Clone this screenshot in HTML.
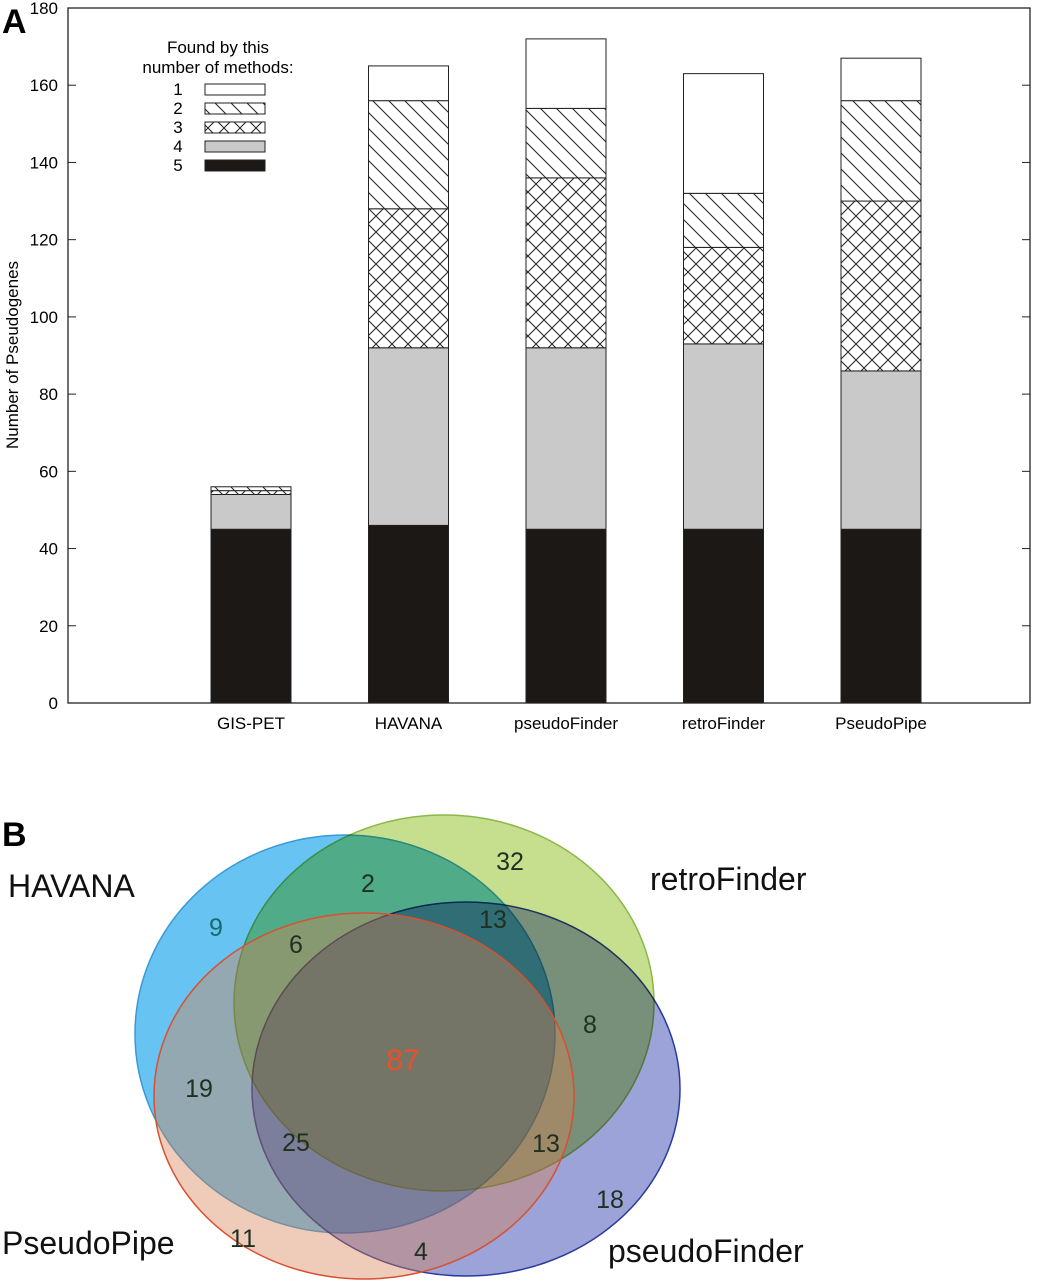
<!DOCTYPE html>
<html><head><meta charset="utf-8"><style>
body{margin:0;background:#fff;width:1039px;height:1280px;overflow:hidden}
svg{display:block;font-family:"Liberation Sans",Arial,sans-serif}
</style></head><body>
<svg width="1039" height="1280" viewBox="0 0 1039 1280">
<defs>
<pattern id="p2" width="16" height="16" patternUnits="userSpaceOnUse"><rect width="16" height="16" fill="#fff"/><path d="M-4,-4L20,20M-4,12L4,20M12,-4L20,4" stroke="#222" stroke-width="1"/></pattern>
<pattern id="p3" width="16" height="16" patternUnits="userSpaceOnUse"><rect width="16" height="16" fill="#fff"/><path d="M-4,-4L20,20M-4,12L4,20M12,-4L20,4M-4,20L20,-4M-4,4L4,-4M12,20L20,12" stroke="#222" stroke-width="1"/></pattern>
</defs>
<text x="2" y="33" font-size="34" font-weight="bold">A</text>
<g id="chartA"></g>
<g id="venn" style="isolation:isolate"></g>
<text x="2" y="846" font-size="34" font-weight="bold">B</text>
</svg>
<script>
const categories=["GIS-PET","HAVANA","pseudoFinder","retroFinder","PseudoPipe"];
const found5=[45,46,45,45,45];
const found4=[9,46,47,48,41];
const found3=[1,36,44,25,44];
const found2=[1,28,18,14,26];
const found1=[0,9,18,31,11];
const yTicks=[0,20,40,60,80,100,120,140,160,180];
const legendLabels=["1","2","3","4","5"];
const vennCounts=["9","2","32","13","6","87","8","19","13","25","18","11","4"];
const vennSets=["HAVANA","retroFinder","pseudoFinder","PseudoPipe"];

const NS="http://www.w3.org/2000/svg";
function mk(tag,attrs,parent,txt){const e=document.createElementNS(NS,tag);for(const k in attrs)e.setAttribute(k,attrs[k]);if(txt!==undefined)e.textContent=txt;parent.appendChild(e);return e;}
const L=68,R=1030,T=8,B=703,YMAX=180;
const y=v=>B-(v/YMAX)*(B-T);
const xc=i=>251+i*157.5;
const g=document.getElementById('chartA');
const frame=mk('rect',{x:L,y:T,width:R-L,height:B-T,fill:'none',stroke:'#222','stroke-width':1.3},g);


yTicks.forEach(t=>{
  const l=mk('line',{x1:L,x2:L+8,y1:y(t),y2:y(t),stroke:'#222'},g);
  
  
  const l2=mk('line',{x1:R-8,x2:R,y1:y(t),y2:y(t),stroke:'#222'},g);
  
  
  const tx=mk('text',{x:L-10,y:y(t)+6,'font-size':17,'text-anchor':'end'},g,t);
  
  
});
const yt=mk('text',{x:18,y:355,'font-size':17,'text-anchor':'middle',transform:'rotate(-90 18 355)'},g,'Number of Pseudogenes');


const series=[found5,found4,found3,found2,found1];
const fills=['#1c1816','#c9c9c9','url(#p3)','url(#p2)','#fff'];
categories.forEach((c,i)=>{
  const xt=mk('line',{x1:xc(i),x2:xc(i),y1:B,y2:B-8,stroke:'#222'},g);
  
  
  let acc=0;
  series.forEach((s,k)=>{
    const v=s[i]; if(v<=0){return;}
    const r=mk('rect',{x:xc(i)-40,y:y(acc+v),width:80,height:y(acc)-y(acc+v),fill:fills[k],stroke:'#222','stroke-width':1},g);
    
    
    acc+=v;
  });
  const lb=mk('text',{x:xc(i),y:729,'font-size':17,'text-anchor':'middle'},g,c);
  
  
});
const lt=mk('text',{x:218,y:53,'font-size':17,'text-anchor':'middle'},g,'Found by this');


const lt2=mk('text',{x:218,y:73,'font-size':17,'text-anchor':'middle'},g,'number of methods:');


const legFills=['#fff','url(#p2)','url(#p3)','#c9c9c9','#1c1816'];
legendLabels.forEach((lab,k)=>{
  const yy=89+k*19;
  const t=mk('text',{x:178,y:yy+6,'font-size':17,'text-anchor':'middle'},g,lab);
  
  
  const r=mk('rect',{x:205,y:yy-5,width:60,height:11,fill:legFills[k],stroke:'#222'},g);
  
  
});
// Venn
const v=document.getElementById('venn');
const ells=[[345,1034,210,199,'#4cb8ee','#3a9ad8',0.85,'multiply'],[444,1003,210,188,'#b2d46a','#8ab848',0.75,'multiply'],[466,1089,214,187,'#5866c0','#2a3aa0',0.6,'multiply'],[364,1096,210,183,'#d88050','#d85030',0.4,'normal']];
ells.forEach((e,i)=>{
  const el=mk('ellipse',{cx:e[0],cy:e[1],rx:e[2],ry:e[3],fill:e[4],'fill-opacity':e[6],stroke:e[5],'stroke-width':1.5,style:'mix-blend-mode:'+e[7]},v);
  
  
});
const cpos=[[216,936],[368,892],[510,870],[493,928],[296,953],[403,1070],[590,1033],[199,1097],[546,1152],[296,1151],[610,1208],[243,1247],[421,1260]];
vennCounts.forEach((c,i)=>{
  const t=mk('text',{x:cpos[i][0],y:cpos[i][1],'font-size':i==5?30:25,'text-anchor':'middle',fill:i==5?'#e8502a':(i==0?'#1a6a6a':'#1f3020')},v,c);
  
  
});
const lpos=[[8,897,'start'],[650,890,'start'],[608,1262,'start'],[2,1254,'start']];
vennSets.forEach((s,i)=>{
  const t=mk('text',{x:lpos[i][0],y:lpos[i][1],'font-size':32,'text-anchor':lpos[i][2],fill:'#111'},v,s);
  
  
});
</script>
</body></html>
